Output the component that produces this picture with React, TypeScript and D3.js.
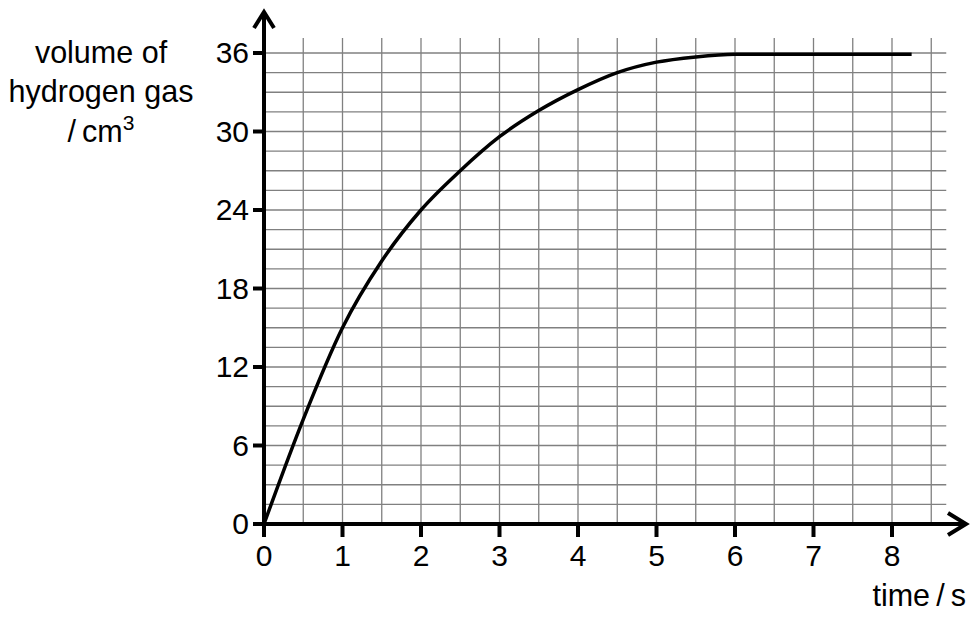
import * as d3 from 'd3'
import React from 'react'

// readings taken off the curve
const timeS = [0, 0.5, 1, 1.5, 2, 2.5, 3, 3.5, 4, 4.5, 5, 5.5, 6, 7, 8.25]
const volumeCm3 = [0, 8.0, 15.0, 20.1, 24.0, 27.0, 29.6, 31.6, 33.2, 34.5, 35.3, 35.7, 35.9, 35.9, 35.9]

const xTickLabels = ['0', '1', '2', '3', '4', '5', '6', '7', '8']
const yTickLabels = ['0', '6', '12', '18', '24', '30', '36']
const yLabelLines = ['volume of', 'hydrogen gas']

const width = 978
const height = 617
const font = "'Liberation Sans', Arial, sans-serif"

export default function App() {
  const x = d3.scaleLinear().domain([0, 8]).range([264, 892])
  const y = d3.scaleLinear().domain([0, 36]).range([524, 53])

  const xGrid = d3.range(0.5, 8.51, 0.5)
  const yGrid = d3.range(1.5, 36.01, 1.5)

  const line = d3
    .line<number>()
    .x((_, i) => x(timeS[i]))
    .y((d) => y(d))
    .curve(d3.curveMonotoneX)

  const gridTop = y(36) - 15
  const gridRight = x(8.5) + 15

  return (
    <div style={{ position: 'absolute', left: 0, top: 0 }}>
      <svg width={width} height={height} style={{ display: 'block', background: '#fff' }} fontFamily={font}>
        {/* grid */}
        <g stroke="#808080" strokeWidth={1.3}>
          {xGrid.map((t) => (
            <line key={'gx' + t} x1={x(t)} x2={x(t)} y1={y(0)} y2={gridTop} />
          ))}
          {yGrid.map((v) => (
            <line key={'gy' + v} x1={x(0)} x2={gridRight} y1={y(v)} y2={y(v)} />
          ))}
        </g>

        {/* curve */}
        <path d={line(volumeCm3) ?? ''} fill="none" stroke="#000" strokeWidth={3.5} strokeLinejoin="round" />

        {/* axes */}
        <g stroke="#000" strokeWidth={4} fill="none">
          <line x1={x(0)} x2={x(0)} y1={y(0) + 2} y2={12} />
          <polyline points={`${x(0) - 10},28 ${x(0)},12 ${x(0) + 10},28`} strokeLinejoin="miter" />
          <line x1={x(0) - 2} x2={966} y1={y(0)} y2={y(0)} />
          <polyline points={`948,${y(0) - 11} 966,${y(0)} 948,${y(0) + 11}`} />
          {yTickLabels.map((s) => (
            <line key={'ty' + s} x1={x(0) - 11} x2={x(0)} y1={y(+s)} y2={y(+s)} />
          ))}
          {xTickLabels.map((s) => (
            <line key={'tx' + s} x1={x(+s)} x2={x(+s)} y1={y(0)} y2={y(0) + 13} />
          ))}
        </g>

        {/* tick labels */}
        <g fontSize={30} fill="#000">
          {yTickLabels.map((s) => (
            <text key={'ly' + s} x={249} y={y(+s) + 10} textAnchor="end">
              {s}
            </text>
          ))}
          {xTickLabels.map((s) => (
            <text key={'lx' + s} x={x(+s)} y={y(0) + 42} textAnchor="middle">
              {s}
            </text>
          ))}
        </g>

        {/* axis titles */}
        <g fontSize={30.5} fill="#000" textAnchor="middle">
          {yLabelLines.map((s, i) => (
            <text key={s} x={101} y={63 + i * 39}>
              {s}
            </text>
          ))}
          <text x={101} y={142}>
            /{'\u2009'}cm<tspan fontSize={21} dy={-12}>3</tspan>
          </text>
          <text x={966} y={606} textAnchor="end">
            time{'\u2009'}/{'\u2009'}s
          </text>
        </g>
      </svg>
    </div>
  )
}
